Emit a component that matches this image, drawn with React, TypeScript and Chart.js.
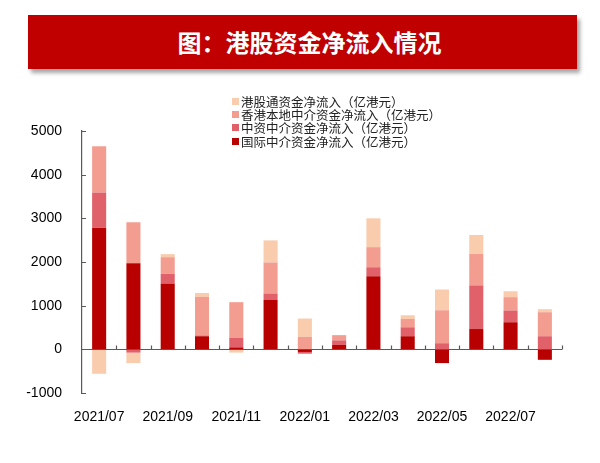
import { useEffect, useRef } from 'react';
import { Chart, registerables } from 'chart.js';

Chart.register(...registerables);

const months = ['2021/07', '2021/08', '2021/09', '2021/10', '2021/11', '2021/12', '2022/01', '2022/02', '2022/03', '2022/04', '2022/05', '2022/06', '2022/07', '2022/08'];
const intlBroker = [2780, 1970, 1500, 300, 45, 1130, -60, 100, 1675, 300, -315, 465, 620, -240];
const chinaBroker = [810, -75, 230, 20, 215, 150, -40, 105, 205, 205, 140, 1000, 270, 300];
const hkLocalBroker = [1060, 940, 380, 880, 820, 710, 285, 120, 460, 190, 755, 720, 305, 550];
const southbound = [-560, -240, 70, 90, -75, 505, 420, 0, 660, 85, 475, 435, 135, 70];
const yTicks = [-1000, 0, 1000, 2000, 3000, 4000, 5000];

const SERIES = [
  { label: '国际中介资金净流入（亿港元）', data: intlBroker, color: '#B80000' },
  { label: '中资中介资金净流入（亿港元）', data: chinaBroker, color: '#E0616A' },
  { label: '香港本地中介资金净流入（亿港元）', data: hkLocalBroker, color: '#F39C90' },
  { label: '港股通资金净流入（亿港元）', data: southbound, color: '#F9CCAE' },
];

const AXIS = '#595959';
const NUM_FONT = { family: '"Liberation Sans", Arial, sans-serif', size: 14 };

// zero line with inward ticks, drawn over the bars like the original
const zeroAxis = {
  id: 'zeroAxis',
  afterDatasetsDraw(chart: any) {
    const { ctx, chartArea, scales: { x, y } } = chart;
    const y0 = Math.round(y.getPixelForValue(0)) + 0.5;
    const step = x.getPixelForValue(1) - x.getPixelForValue(0);
    ctx.save();
    ctx.strokeStyle = AXIS;
    ctx.lineWidth = 1.2;
    ctx.beginPath();
    ctx.moveTo(chartArea.left, y0);
    ctx.lineTo(chartArea.right, y0);
    for (let i = 0; i < months.length; i++) {
      const xb = Math.round(x.getPixelForValue(i) + step / 2) + 0.5;
      ctx.moveTo(xb, y0);
      ctx.lineTo(xb, y0 - 4);
    }
    yTicks.forEach(v => {
      const py = Math.round(y.getPixelForValue(v)) + 0.5;
      ctx.moveTo(chartArea.left, py);
      ctx.lineTo(chartArea.left + 4, py);
    });
    ctx.stroke();
    ctx.restore();
  },
};

export default function App() {
  const ref = useRef<HTMLCanvasElement>(null);
  const ci = useRef<Chart | null>(null);

  useEffect(() => {
    if (!ref.current) return;
    ci.current?.destroy();

    ci.current = new Chart(ref.current, {
      type: 'bar',
      data: {
        labels: months,
        datasets: SERIES.map(s => ({
          label: s.label,
          data: s.data,
          backgroundColor: s.color,
          borderWidth: 0,
          barPercentage: 0.41,
          categoryPercentage: 1,
        })),
      },
      options: {
        responsive: true, maintainAspectRatio: false, animation: false,
        layout: { padding: { left: 22, right: 38, top: 131, bottom: 40 } },
        plugins: { legend: { display: false }, tooltip: { enabled: false }, title: { display: false } },
        scales: {
          x: {
            stacked: true,
            grid: { display: false },
            border: { display: false },
            afterFit: (s: any) => { s.height = 30; },
            ticks: {
              autoSkip: false, maxRotation: 0, padding: 8, color: '#000', font: NUM_FONT,
              callback: (_v: any, i: number) => (i % 2 === 0 ? months[i] : ''),
            },
          },
          y: {
            stacked: true,
            min: -1000, max: 5000,
            grid: { display: false },
            border: { display: true, color: AXIS, width: 1.2 },
            afterFit: (s: any) => { s.width = 60; },
            ticks: { stepSize: 1000, padding: 12, color: '#000', font: NUM_FONT, callback: (v: any) => String(v) },
          },
        },
      },
      plugins: [zeroAxis],
    });

    return () => { ci.current?.destroy(); ci.current = null; };
  }, []);

  const cjk = '"Noto Sans CJK SC", "Noto Sans", sans-serif';

  return (
    <div style={{ position: 'absolute', left: 0, top: 0, width: 600, height: 463, background: '#fff', overflow: 'hidden' }}>
      <div style={{
        position: 'absolute', left: 28, top: 15, width: 549, height: 54, background: '#C00000',
        boxShadow: '3px 4px 4px rgba(0,0,0,0.35)', color: '#fff', fontFamily: cjk, fontWeight: 700,
        fontSize: 24, lineHeight: '54px', textAlign: 'center', paddingLeft: 14, boxSizing: 'border-box',
      }}>
        图：港股资金净流入情况
      </div>
      <div style={{ position: 'absolute', left: 0, top: 0, width: 600, height: 463 }}>
        <canvas ref={ref} />
      </div>
      <div style={{ position: 'absolute', left: 232, top: 95, fontFamily: cjk, fontSize: 12.5, color: '#222' }}>
        {[...SERIES].reverse().map(s => (
          <div key={s.label} style={{ display: 'flex', alignItems: 'center', height: 13.2, lineHeight: '13.2px', whiteSpace: 'nowrap' }}>
            <span style={{ width: 7, height: 7, background: s.color, marginRight: 2, display: 'inline-block' }} />
            {s.label}
          </div>
        ))}
      </div>
    </div>
  );
}
